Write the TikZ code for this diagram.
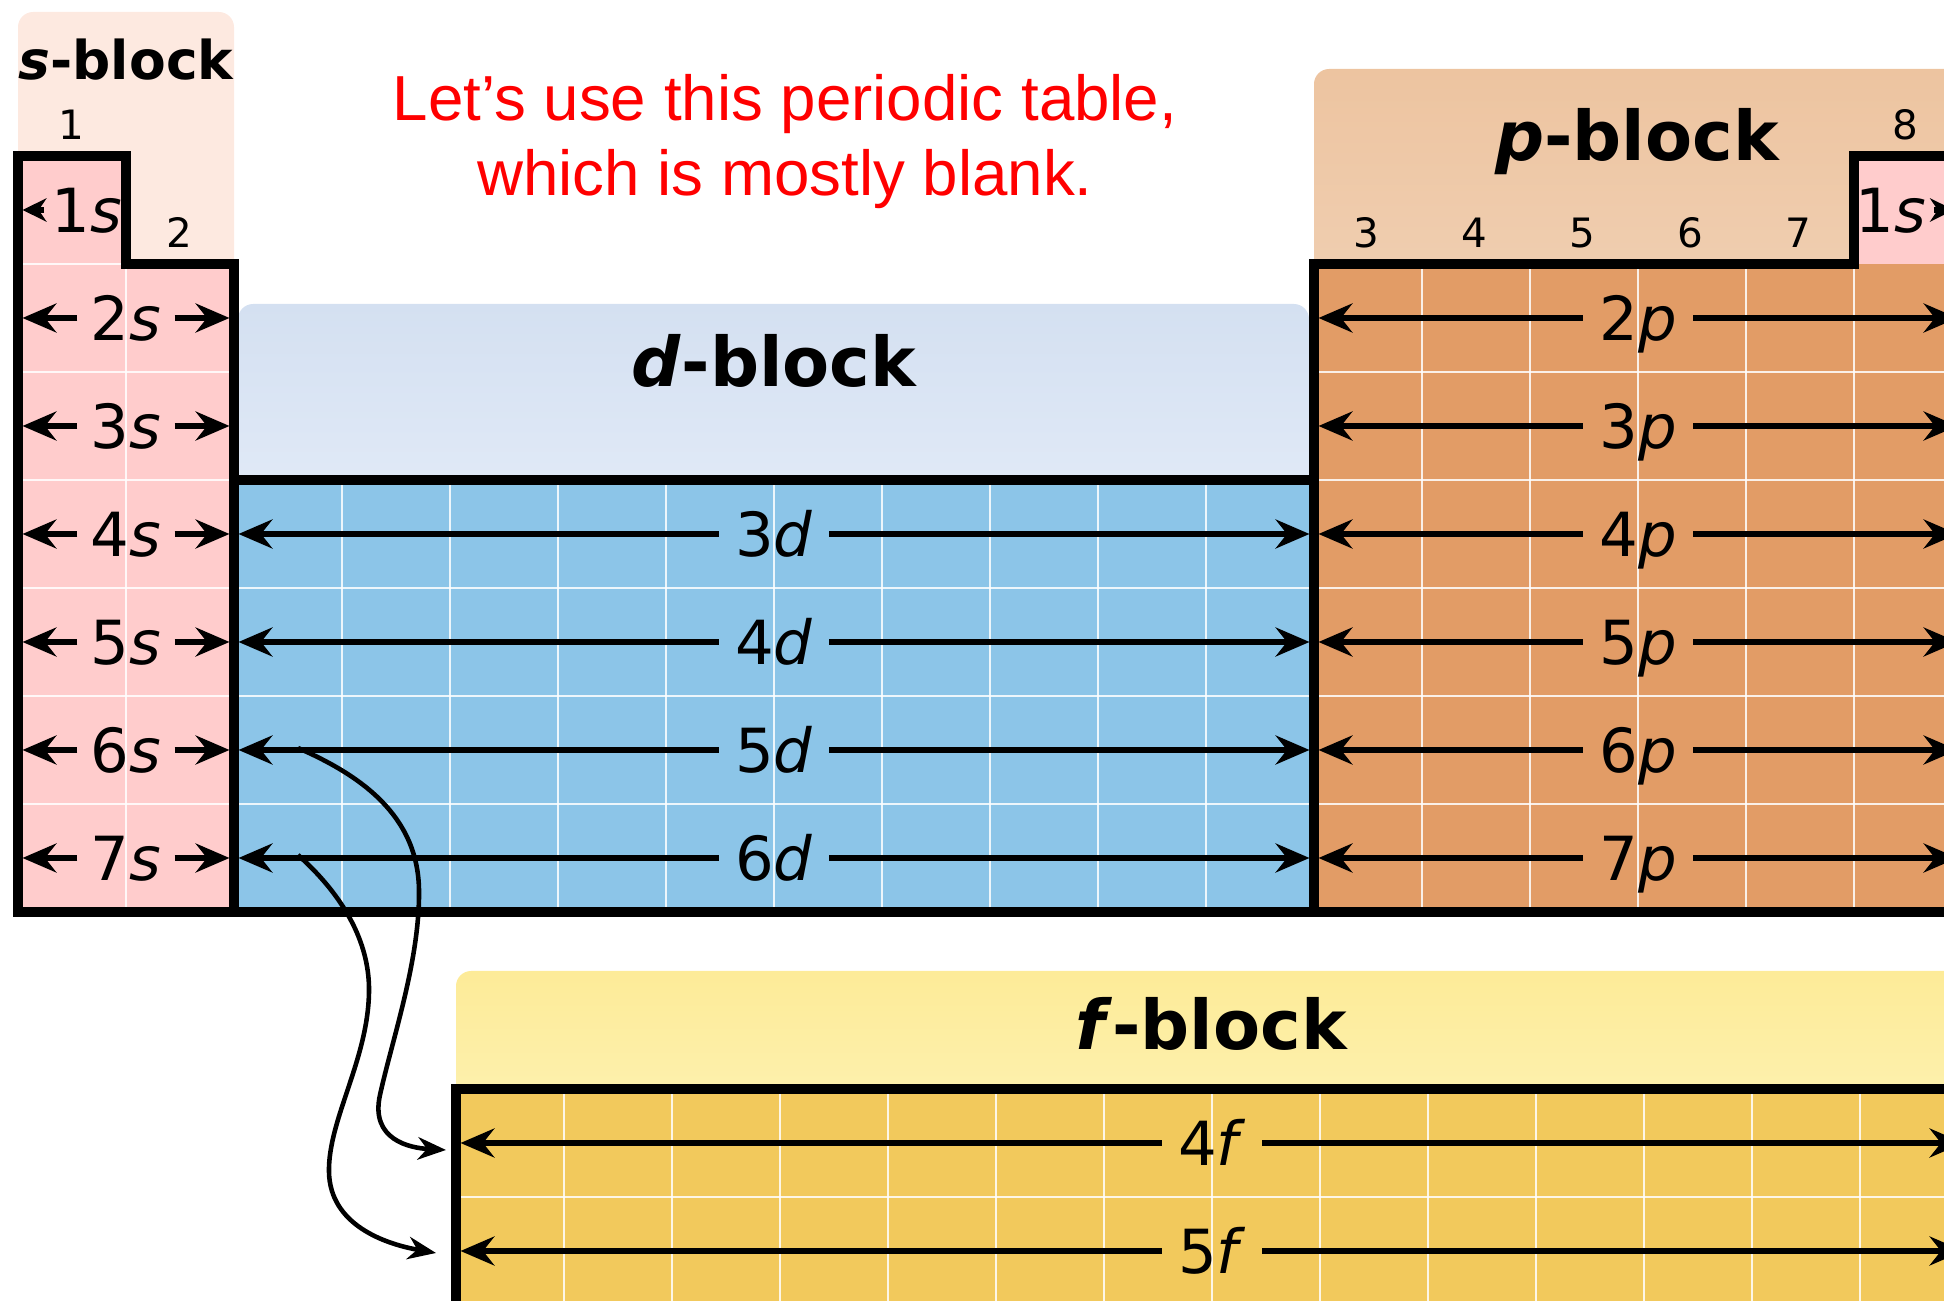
\documentclass[tikz,border=0pt]{standalone}
\usepackage{fontspec}
\setmainfont{DejaVu Sans}
\newfontfamily\redfont{Liberation Sans}
\usetikzlibrary{arrows.meta}
\definecolor{sbg}{RGB}{253,233,224}
\definecolor{scell}{RGB}{255,204,204}
\definecolor{dbgtop}{RGB}{212,224,241}
\definecolor{dbgbot}{RGB}{225,234,247}
\definecolor{dcell}{RGB}{140,197,232}
\definecolor{pbgtop}{RGB}{237,196,160}
\definecolor{pbgbot}{RGB}{240,207,178}
\definecolor{pcell}{RGB}{226,156,102}
\definecolor{fbgtop}{RGB}{253,235,152}
\definecolor{fbgbot}{RGB}{253,241,175}
\definecolor{fcell}{RGB}{242,201,92}
\definecolor{redtxt}{RGB}{255,0,0}
\begin{document}
\begin{tikzpicture}[x=0.01cm,y=-0.01cm,
  outline/.style={line width=2.6pt, line join=miter, line cap=rect},
  gridw/.style={white, line width=0.6pt, opacity=0.85},
  orb/.style={font=\fontsize{17.3pt}{20pt}\selectfont, text height=12.6pt, text depth=0pt, inner ysep=0pt, inner xsep=4.5pt},
  orbs/.style={orb, inner xsep=3.6pt},
  orbone/.style={orb, inner xsep=2pt},
  grp/.style={font=\fontsize{11.5pt}{13pt}\selectfont, text height=8.4pt, text depth=0pt, inner sep=0pt},
  title/.style={font=\fontsize{19.5pt}{22pt}\selectfont\bfseries, anchor=base, inner sep=0pt},
  stitle/.style={font=\fontsize{15.2pt}{18pt}\selectfont\bfseries, anchor=base, inner sep=0pt},
  msg/.style={font=\redfont\fontsize{18.1pt}{22pt}\selectfont, text=redtxt, anchor=base, inner sep=0pt},
  arr/.style={line width=1.9pt, -{Stealth[length=9.6pt,width=8.2pt,inset=3.2pt]}},
  arrsmall/.style={line width=1.6pt, -{Stealth[length=6.8pt,width=6.6pt,inset=2.2pt]}},
  curve/.style={line width=1.3pt, -{Stealth[length=8pt,width=6.4pt,inset=2.6pt]}},
]
\useasboundingbox (0,0) rectangle (1944,1301);
\begin{scope}
\clip (0,0) rectangle (1944,1301);
% block backgrounds
\fill[sbg, rounded corners=4.3pt] (18,12) rectangle (234,300);
\shade[top color=dbgtop, bottom color=dbgbot, rounded corners=4.3pt] (238,304) rectangle (1309,500);
\shade[top color=pbgtop, bottom color=pbgbot, rounded corners=4.3pt] (1314,69) rectangle (2010,300);
\shade[top color=fbgtop, bottom color=fbgbot, rounded corners=4.3pt] (456,971) rectangle (2010,1110);
% cells
\fill[scell] (18,156) rectangle (126,264);
\fill[scell] (18,264) rectangle (234,912);
\fill[dcell] (234,480) rectangle (1314,912);
\fill[pcell] (1314,264) rectangle (1962,912);
\fill[scell] (1854,156) rectangle (1962,264);
\fill[fcell] (456,1089) rectangle (1968,1400);
% grid
\draw[gridw] (126,264) -- (126,912);
\draw[gridw] (18,264) -- (126,264);
\foreach \y in {372,480,588,696,804} \draw[gridw] (18,\y) -- (234,\y);
\foreach \k in {1,...,9} \draw[gridw] ({234+108*\k},480) -- ({234+108*\k},912);
\foreach \y in {588,696,804} \draw[gridw] (234,\y) -- (1314,\y);
\foreach \k in {1,...,5} \draw[gridw] ({1314+108*\k},264) -- ({1314+108*\k},912);
\foreach \y in {372,480,588,696,804} \draw[gridw] (1314,\y) -- (1962,\y);
\foreach \k in {1,...,13} \draw[gridw] ({456+108*\k},1089) -- ({456+108*\k},1400);
\draw[gridw] (456,1197) -- (1968,1197);
% outlines
\draw[outline] (18,912) -- (18,156) -- (126,156) -- (126,264) -- (234,264) -- (234,480) -- (1314,480) -- (1314,264) -- (1854,264) -- (1854,156) -- (1962,156) -- (1962,912) -- cycle;
\draw[outline] (234,480) -- (234,912);
\draw[outline] (1314,480) -- (1314,912);
\draw[outline] (456,1400) -- (456,1089) -- (1968,1089) -- (1968,1400);
% titles
\node[stitle] (stit) at (126,80) {\textit{s}-block};
\node[title] (dtit) at (774,387) {\textit{d}-block};
\node[title] (ptit) at (1637,161) {\textit{p}-block};
\node[title] (ftit) at (1211,1050) {\textit{f}-block};
% message
\node[msg] (msg1) at (785,121) {Let’s use this periodic table,};
\node[msg] (msg2) at (785,196) {which is mostly blank.};
% group numbers
\node[grp] (g1) at (71,125) {1};
\node[grp] (g2) at (179,233) {2};
\foreach \k in {3,...,7} \node[grp] (g\k) at ({1366+108*(\k-3)},233) {\k};
\node[grp] (g8) at (1905,125) {8};
% 1s rows
\node[orbone] (h1) at (87,210) {1\textit{s}};
\coordinate (h1L) at (22.5,210);
\draw[arrsmall] (h1) -- (h1L);
\node[orbone] (he1) at (1891,210) {1\textit{s}};
\coordinate (he1R) at (1954,210);
\draw[arrsmall] (he1) -- (he1R);
% s rows
\foreach \n in {2,...,7} {
  \pgfmathsetmacro\yc{156+(\n-0.5)*108}
  \node[orbs] (s\n) at (126,\yc) {\n\textit{s}};
  \coordinate (sL\n) at (22.5,\yc);
  \coordinate (sR\n) at (229.5,\yc);
  \draw[arr] (s\n) -- (sL\n);
  \draw[arr] (s\n) -- (sR\n);
}
% d rows
\foreach \n/\p in {3/4,4/5,5/6,6/7} {
  \pgfmathsetmacro\yc{156+(\p-0.5)*108}
  \node[orb] (d\n) at (774,\yc) {\n\textit{d}};
  \coordinate (dL\n) at (238.5,\yc);
  \coordinate (dR\n) at (1309.5,\yc);
  \draw[arr] (d\n) -- (dL\n);
  \draw[arr] (d\n) -- (dR\n);
}
% p rows
\foreach \n in {2,...,7} {
  \pgfmathsetmacro\yc{156+(\n-0.5)*108}
  \node[orb] (p\n) at (1638,\yc) {\n\textit{p}};
  \coordinate (pL\n) at (1318.5,\yc);
  \coordinate (pR\n) at (1957.5,\yc);
  \draw[arr] (p\n) -- (pL\n);
  \draw[arr] (p\n) -- (pR\n);
}
% f rows
\foreach \n/\yc in {4/1143,5/1251} {
  \node[orb] (f\n) at (1212,\yc) {\n\textit{f}};
  \coordinate (fL\n) at (460.5,\yc);
  \coordinate (fR\n) at (1963.5,\yc);
  \draw[arr] (f\n) -- (fL\n);
  \draw[arr] (f\n) -- (fR\n);
}
% curved connectors d -> f
\coordinate (c5a) at (298,748);
\coordinate (c5b) at (446,1150);
\coordinate (c6a) at (298,855);
\coordinate (c6b) at (436,1253);
\draw[curve] (c5a) .. controls (360,775) and (418,815) .. (419,890)
  .. controls (420,960) and (392,1040) .. (380,1095)
  .. controls (370,1140) and (410,1148) .. (c5b);
\draw[curve] (c6a) .. controls (335,888) and (370,935) .. (369,992)
  .. controls (368,1060) and (328,1120) .. (329,1172)
  .. controls (330,1225) and (385,1244) .. (c6b);
\end{scope}
\end{tikzpicture}
\end{document}
